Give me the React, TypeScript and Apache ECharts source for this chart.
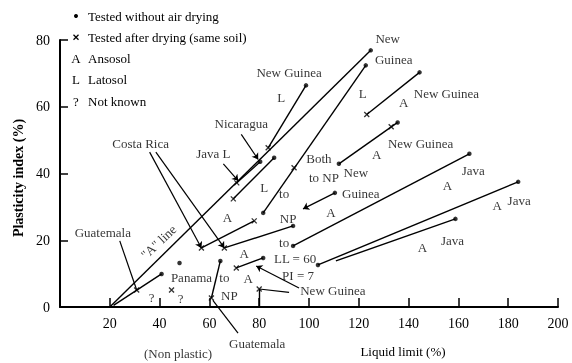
import React, { useEffect, useRef } from "react";
import * as echarts from "echarts";

// Segments joining the two tests of one soil: [x1, y1, x2, y2] (liquid limit %, plasticity index %)
const segments: number[][] = [
  [20, 0, 124.8, 76.9], // "A" line
  [122.8, 72.4, 81.6, 28.2],
  [98.8, 66.4, 83.6, 47.7],
  [86, 44.7, 69.6, 32.4],
  [80.4, 43.5, 71, 37.2],
  [56.8, 17.7, 78, 25.8],
  [66, 17.7, 93.6, 24.3],
  [123.2, 57.7, 144.4, 70.3],
  [112, 42.9, 135.6, 55.3],
  [93.6, 18.3, 164.4, 45.9],
  [103.6, 12.6, 184, 37.5],
  [110.8, 13.8, 158.8, 26.4],
  [70.8, 11.7, 81.6, 14.7],
  [80, 0, 80, 5.4],
  [60.8, 2.7, 64.4, 13.8],
  [21.5, 0.5, 40.8, 9.9],
];

// Tested without air drying
const undried: number[][] = [
  [124.8, 76.9], [122.8, 72.4], [98.8, 66.4], [86, 44.7], [80.4, 43.5],
  [81.6, 28.2], [93.6, 24.3], [144.4, 70.3], [135.6, 55.3], [112, 42.9],
  [110.4, 34.2], [164.4, 45.9], [184, 37.5], [158.8, 26.4], [93.6, 18.3],
  [103.6, 12.6], [81.6, 14.7], [64.4, 13.8], [40.8, 9.9], [48, 13.2],
];

// Tested after drying (same soil)
const dried: number[][] = [
  [83.6, 47.7], [69.6, 32.4], [71, 37.2], [56.8, 17.7], [78, 25.8],
  [66, 17.7], [123.2, 57.7], [133, 54], [94, 41.7], [70.8, 11.7],
  [80, 5.4], [60.8, 2.7], [30.8, 5.1], [44.8, 5.1],
];

// Annotation arrows [x1, y1, x2, y2]
const arrows: number[][] = [
  [36, 46.4, 56.8, 17.7],
  [38.5, 46.4, 66, 17.7],
  [65.6, 42.9, 71.6, 37.8],
  [72.8, 51.7, 79.6, 44.2],
  [110.4, 34.2, 97.6, 29.4],
  [96, 5.7, 78.8, 12.3],
];

// Plain leader lines [x1, y1, x2, y2]
const leaders: number[][] = [
  [24, 19.8, 30.8, 5.1],
  [92, 4.4, 80, 5.4],
  [71.5, -7.8, 61.4, 2],
];

// Text notes [text, x, y, rotate]
const notes: [string, number, number, number][] = [
  ["New Guinea", 92, 70.3, 0],
  ["L", 88.8, 62.8, 0],
  ["New", 131.6, 80.5, 0],
  ["Guinea", 134, 74.2, 0],
  ["L", 121.6, 64, 0],
  ["A", 138, 61.3, 0],
  ["New Guinea", 155.2, 64, 0],
  ["A", 127.2, 45.6, 0],
  ["New Guinea", 144.8, 48.9, 0],
  ["Both", 104, 44.4, 0],
  ["to NP", 106, 38.9, 0],
  ["New", 118.8, 40.2, 0],
  ["Guinea", 120.8, 33.9, 0],
  ["A", 108.8, 28.2, 0],
  ["Java", 166, 40.8, 0],
  ["A", 155.6, 36.3, 0],
  ["A", 175.6, 30.3, 0],
  ["Java", 184.4, 31.8, 0],
  ["A", 145.6, 17.7, 0],
  ["Java", 157.6, 19.8, 0],
  ["to", 90, 19.2, 0],
  ["LL = 60", 94.4, 14.4, 0],
  ["PI = 7", 95.6, 9.3, 0],
  ["New Guinea", 109.6, 4.8, 0],
  ["L", 82, 35.7, 0],
  ["to", 90, 33.9, 0],
  ["NP", 91.6, 26.4, 0],
  ["A", 67.2, 26.7, 0],
  ["A", 74, 15.9, 0],
  ["A", 75.6, 8.4, 0],
  ["Panama", 52.8, 8.7, 0],
  ["to", 66, 8.7, 0],
  ["NP", 68, 3.3, 0],
  ["?", 36.8, 2.7, 0],
  ["?", 48.4, 2.4, 0],
  ["Guatemala", 17.2, 22.2, 0],
  ["Costa Rica", 32.4, 48.9, 0],
  ["Java L", 61.6, 45.9, 0],
  ["Nicaragua", 72.8, 55, 0],
  ["\"A\" line", 39.6, 19.5, 43],
  ["Guatemala", 79.2, -10.8, 0],
  ["(Non plastic)", 47.4, -13.8, 0],
];

const legendMarks = ["•", "x", "A", "L", "?"];
const legendTexts = [
  "Tested without air drying",
  "Tested after drying (same soil)",
  "Ansosol",
  "Latosol",
  "Not known",
];

const FONT = "'Liberation Serif', 'DejaVu Serif', serif";
const INK = "#000";
const XMARK = "path://M0,0L10,10M10,0L0,10";

export default function App() {
  const ref = useRef<HTMLDivElement>(null);
  useEffect(() => {
    const chart = echarts.init(ref.current!, null, { renderer: "svg" });
    const legendGraphics: any[] = [];
    legendTexts.forEach((t, i) => {
      const y = 16 + i * 21.3;
      const m = legendMarks[i];
      if (m === "•") {
        legendGraphics.push({ type: "circle", shape: { cx: 76, cy: y, r: 2 }, style: { fill: INK } });
      } else if (m === "x") {
        legendGraphics.push({ type: "line", shape: { x1: 73.5, y1: y - 2.5, x2: 78.5, y2: y + 2.5 }, style: { stroke: INK, lineWidth: 1.3 } });
        legendGraphics.push({ type: "line", shape: { x1: 78.5, y1: y - 2.5, x2: 73.5, y2: y + 2.5 }, style: { stroke: INK, lineWidth: 1.3 } });
      } else {
        legendGraphics.push({ type: "text", x: 76, y, style: { text: m, font: `13px ${FONT}`, fill: INK, align: "center", verticalAlign: "middle" } });
      }
      legendGraphics.push({ type: "text", x: 88, y, style: { text: t, font: `13px ${FONT}`, fill: INK, align: "left", verticalAlign: "middle" } });
    });

    chart.setOption({
      animation: false,
      grid: { left: 60, right: 14, top: 40, bottom: 56 },
      xAxis: {
        type: "value", min: 0, max: 200, interval: 20,
        axisLine: { lineStyle: { color: INK, width: 2 } },
        axisTick: { inside: true, length: 9, lineStyle: { color: INK, width: 1.5 } },
        splitLine: { show: false },
        axisLabel: { formatter: (v: number) => (v === 0 ? "" : String(v)), color: INK, fontFamily: FONT, fontSize: 14, margin: 9 },
      },
      yAxis: {
        type: "value", min: 0, max: 80, interval: 20,
        axisLine: { show: true, lineStyle: { color: INK, width: 2 } },
        axisTick: { show: true, inside: true, length: 8, lineStyle: { color: INK, width: 1.5 } },
        splitLine: { show: false },
        axisLabel: { color: INK, fontFamily: FONT, fontSize: 14, margin: 10 },
      },
      graphic: [
        ...legendGraphics,
        { type: "text", x: 18, y: 178, rotation: Math.PI / 2, style: { text: "Plasticity index (%)", font: `bold 14px ${FONT}`, fill: INK, align: "center", verticalAlign: "middle" } },
        { type: "text", x: 403, y: 351, style: { text: "Liquid limit (%)", font: `13px ${FONT}`, fill: INK, align: "center", verticalAlign: "middle" } },
      ],
      series: [
        {
          type: "lines", coordinateSystem: "cartesian2d", silent: true,
          lineStyle: { color: INK, width: 1.4, opacity: 1 },
          data: segments.map((s) => ({ coords: [[s[0], s[1]], [s[2], s[3]]] })),
        },
        {
          type: "lines", coordinateSystem: "cartesian2d", silent: true,
          symbol: ["none", "arrow"], symbolSize: 6,
          lineStyle: { color: INK, width: 1.2, opacity: 1 },
          data: arrows.map((s) => ({ coords: [[s[0], s[1]], [s[2], s[3]]] })),
        },
        {
          type: "lines", coordinateSystem: "cartesian2d", silent: true, clip: false,
          lineStyle: { color: INK, width: 1.2, opacity: 1 },
          data: leaders.map((s) => ({ coords: [[s[0], s[1]], [s[2], s[3]]] })),
        },
        {
          type: "scatter", symbol: "circle", symbolSize: 4.5, clip: false,
          itemStyle: { color: INK },
          data: undried,
        },
        {
          type: "scatter", symbol: XMARK, symbolSize: 5, clip: false,
          itemStyle: { color: "none", borderColor: INK, borderWidth: 1.3 },
          data: dried,
        },
        {
          type: "scatter", symbolSize: 1, clip: false, silent: true,
          itemStyle: { color: "rgba(0,0,0,0)" },
          label: {
            show: true, position: "inside", color: INK, fontFamily: FONT, fontSize: 13,
            formatter: (p: any) => p.data.name,
          },
          data: notes.map((n) => ({ name: n[0], value: [n[1], n[2]], label: { rotate: n[3] } })),
        },
      ],
    });
    return () => chart.dispose();
  }, []);
  return <div ref={ref} style={{ position: "fixed", left: 0, top: 0, width: 572, height: 363 }} />;
}
